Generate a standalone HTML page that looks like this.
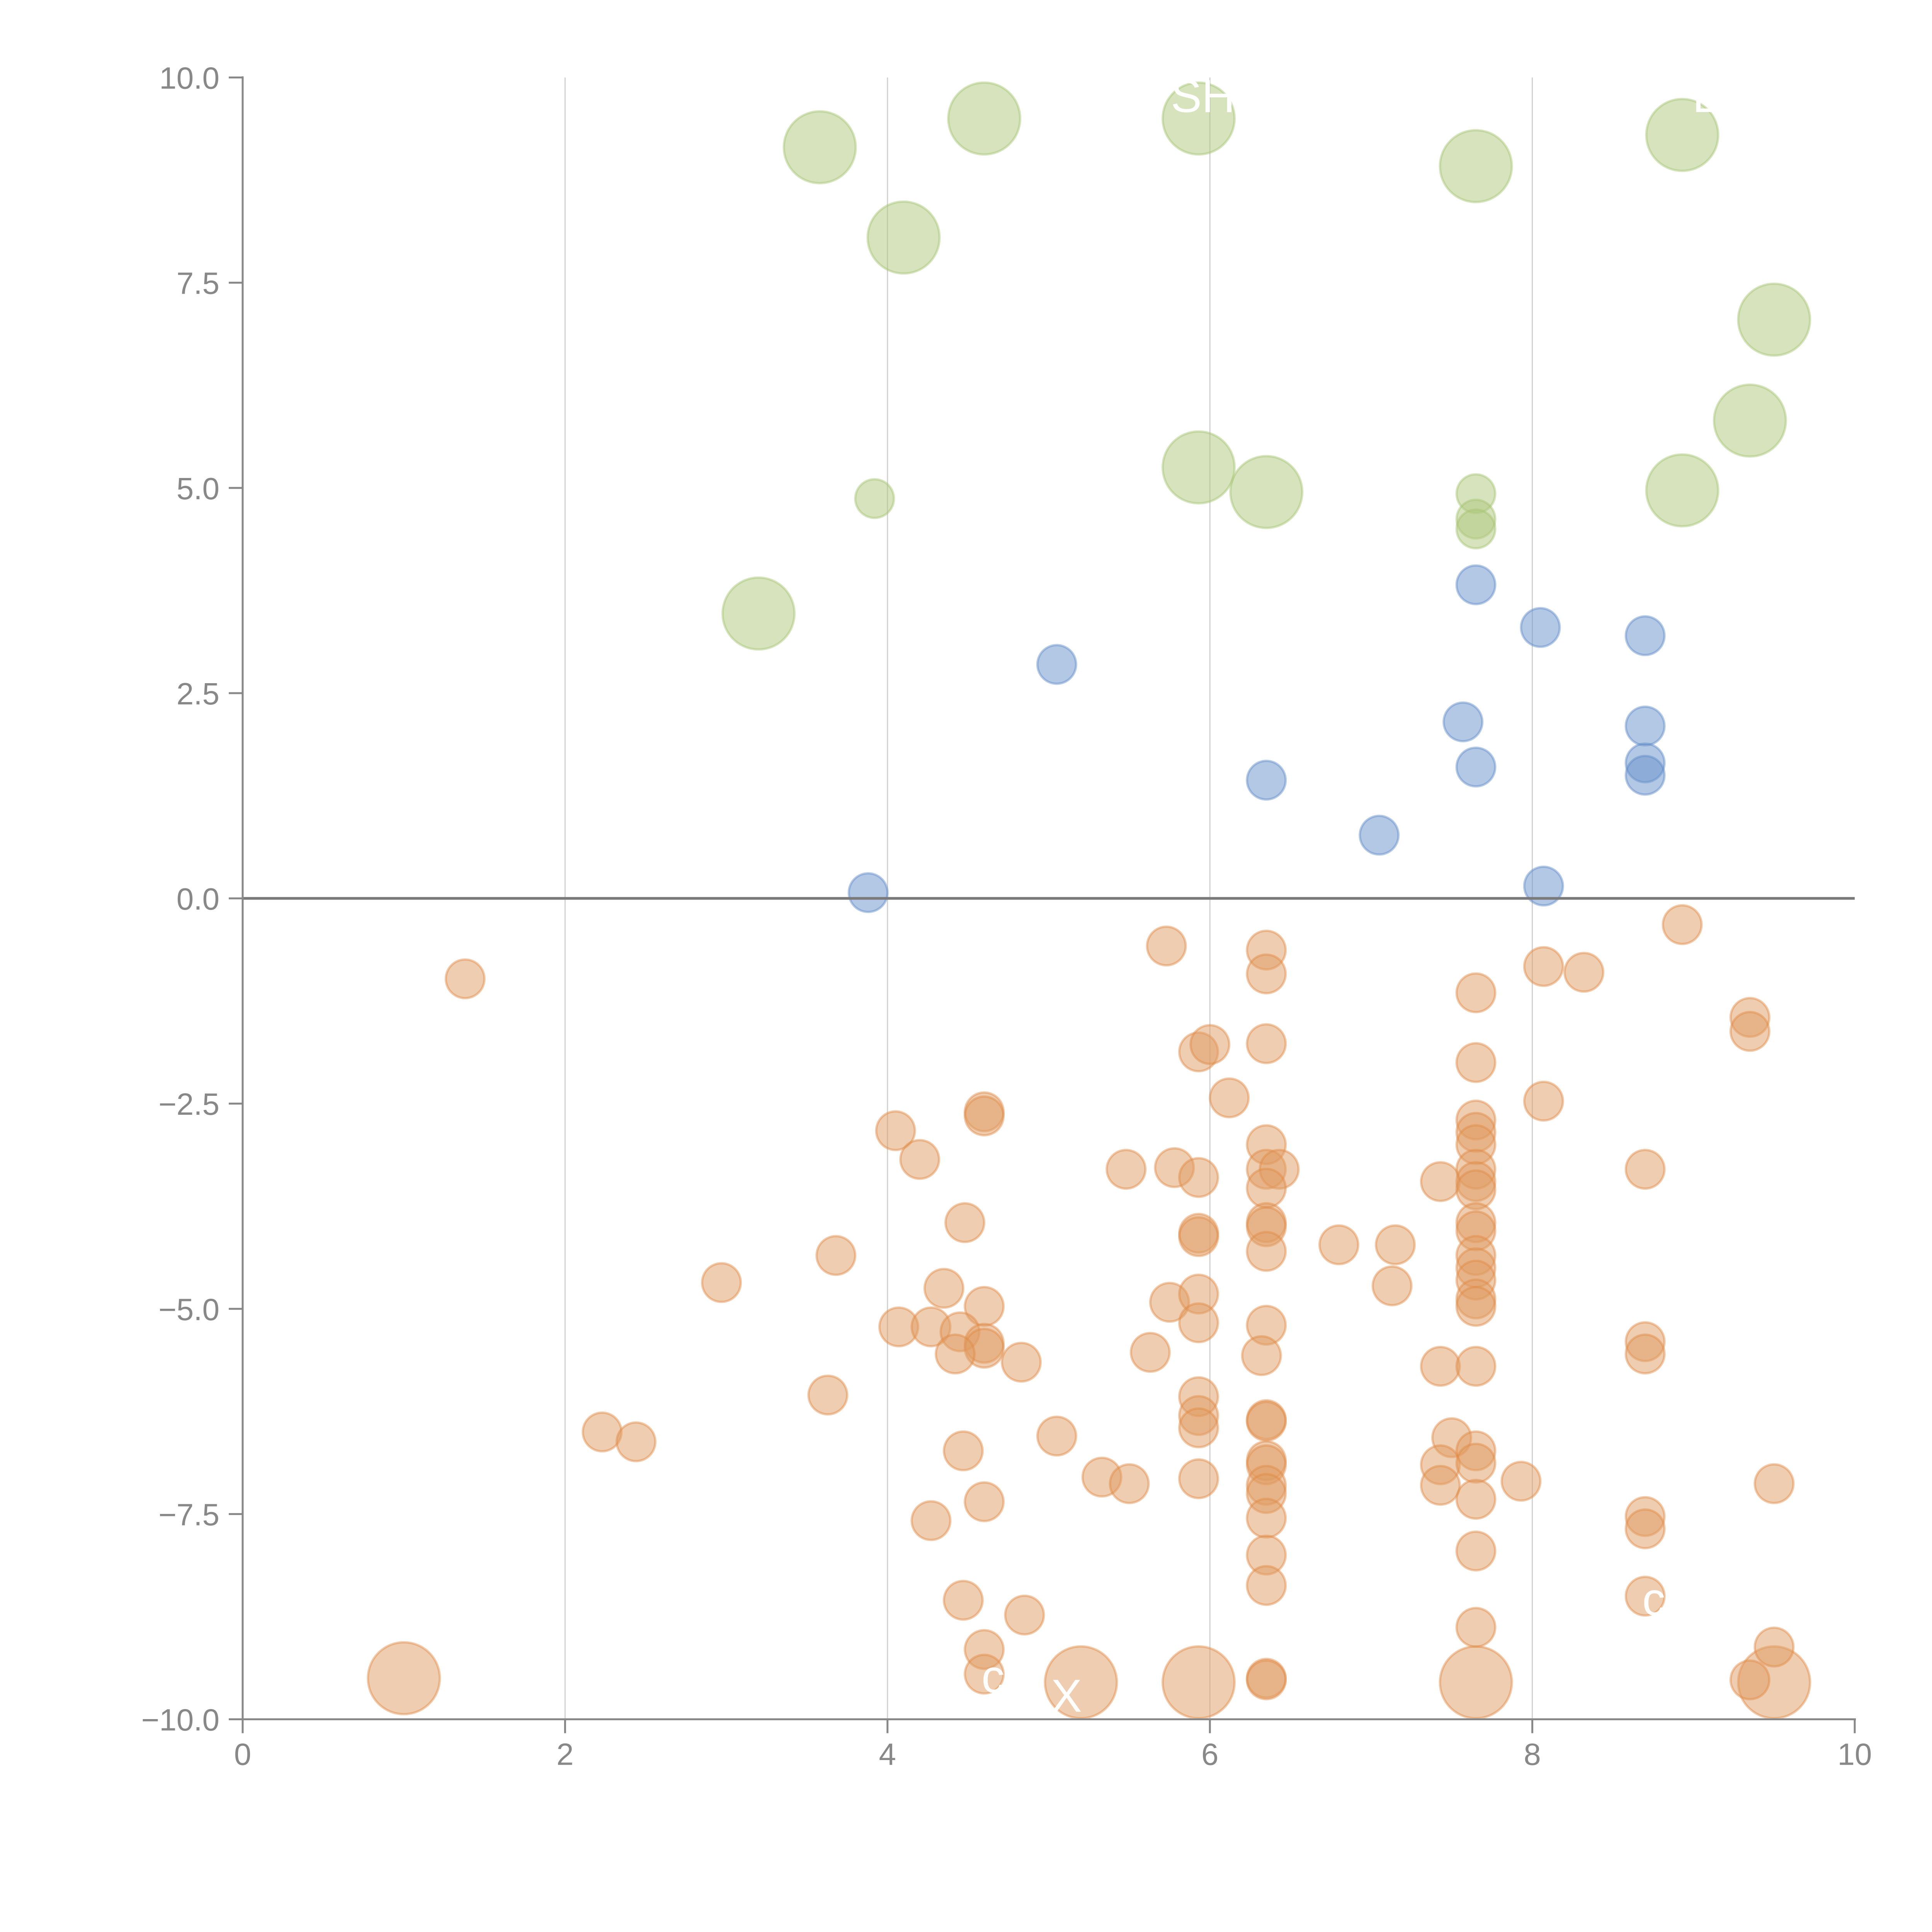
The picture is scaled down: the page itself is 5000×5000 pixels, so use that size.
<!DOCTYPE html>
<html><head><meta charset="utf-8"><style>
html,body{margin:0;padding:0;background:#fff;width:5000px;height:5000px;overflow:hidden}
svg{display:block}
text{font-family:"Liberation Sans",sans-serif}
</style></head><body>
<svg id="chart" width="5000" height="5000" viewBox="0 0 5000 5000" xmlns="http://www.w3.org/2000/svg">
<g id="grid"></g>
<g id="marks"></g>
<g id="labels"></g>
<g id="axes"></g>
</svg>
<script>
const xTicks=[0,2,4,6,8,10];
const yTicks=[-10,-7.5,-5,-2.5,0,2.5,5,7.5,10];
const yTickLabels=["\u221210.0","\u22127.5","\u22125.0","\u22122.5","0.0","2.5","5.0","7.5","10.0"];
const greenX=[3.58,4.6,5.93,7.65,8.93,4.1,9.5,9.35,5.93,6.35,8.93,3.2,3.92,7.65,7.65,7.65];
const greenY=[9.15,9.5,9.5,8.92,9.3,8.05,7.05,5.82,5.25,4.95,4.97,3.47,4.87,4.93,4.62,4.5];
const greenS=[2,2,2,2,2,2,2,2,2,2,2,2,1,1,1,1];
const blueX=[5.05,7.65,8.05,8.7,7.57,8.7,7.65,8.7,8.7,6.35,7.05,3.88,8.07];
const blueY=[2.85,3.82,3.3,3.2,2.15,2.1,1.6,1.65,1.5,1.44,0.77,0.07,0.15];
const orangeX=[1.0,5.2,5.93,7.65,9.5,
1.38,5.73,6.35,6.35,7.65,8.07,8.32,8.93,9.35,9.35,5.93,6.0,6.35,7.65,6.12,8.07,4.05,4.6,4.6,4.2,
6.35,7.65,7.65,7.65,5.48,5.78,5.93,6.35,6.43,6.35,7.43,7.65,7.65,7.65,8.7,
4.48,5.93,5.93,6.35,6.35,6.35,6.8,7.15,7.65,7.65,3.68,7.65,7.65,7.65,
2.97,4.35,7.13,5.75,5.93,4.6,7.65,7.65,4.07,4.27,4.45,5.93,6.35,4.6,4.6,4.42,5.63,6.32,4.83,7.43,7.65,8.7,8.7,
3.63,5.93,5.93,5.93,6.35,6.35,2.23,2.44,5.05,7.5,7.65,4.47,6.35,6.35,7.43,7.65,5.33,5.5,5.93,6.35,6.35,7.43,7.93,9.5,4.6,7.65,4.27,6.35,8.7,8.7,6.35,7.65,6.35,8.7,4.47,4.85,7.65,4.6,9.5,4.6,6.35,6.35,9.35];
const orangeY=[-9.5,-9.55,-9.55,-9.55,-9.55,
-0.98,-0.58,-0.63,-0.92,-1.15,-0.83,-0.9,-0.32,-1.45,-1.62,-1.87,-1.78,-1.77,-2.0,-2.43,-2.47,-2.83,-2.6,-2.65,-3.18,
-3.0,-2.7,-2.85,-3.0,-3.3,-3.28,-3.4,-3.3,-3.3,-3.53,-3.45,-3.3,-3.45,-3.55,-3.3,
-3.95,-4.08,-4.12,-3.95,-4.0,-4.3,-4.22,-4.22,-3.95,-4.05,-4.35,-4.35,-4.5,-4.65,
-4.68,-4.75,-4.72,-4.92,-4.82,-4.97,-4.88,-4.97,-5.22,-5.22,-5.28,-5.17,-5.2,-5.42,-5.48,-5.55,-5.53,-5.57,-5.65,-5.7,-5.7,-5.4,-5.55,
-6.05,-6.07,-6.3,-6.45,-6.35,-6.37,-6.5,-6.62,-6.55,-6.57,-6.73,-6.73,-6.85,-6.9,-6.9,-6.88,-7.05,-7.13,-7.07,-7.15,-7.25,-7.15,-7.1,-7.13,-7.35,-7.32,-7.58,-7.55,-7.53,-7.68,-8.0,-7.95,-8.37,-8.5,-8.55,-8.73,-8.88,-9.15,-9.12,-9.45,-9.5,-9.52,-9.52];
const orangeS=[2,2,2,2,2];

const X0=628,XU=417.2,Y0=2325,YU=212.45;
const sx=v=>X0+v*XU, sy=v=>Y0-v*YU;
const NS="http://www.w3.org/2000/svg";
function mk(tag,attrs,parent){const e=document.createElementNS(NS,tag);for(const k in attrs)e.setAttribute(k,attrs[k]);parent.appendChild(e);return e;}
const grid=document.getElementById('grid'),marks=document.getElementById('marks'),axes=document.getElementById('axes'),labels=document.getElementById('labels');
xTicks.forEach(t=>{ if(t>0&&t<10){const l=mk('line',{x1:sx(t),x2:sx(t),y1:sy(10),y2:sy(-10),stroke:'#d0d0d0','stroke-width':3},grid);

}});
function series(xs,ys,ss,fill,stroke,name){
 xs.forEach((x,i)=>{const big=(ss[i]||1)===2;
  const c=mk('circle',{cx:sx(x),cy:sy(ys[i]),r:big?93:50,fill:fill,'fill-opacity':0.5,stroke:stroke,'stroke-opacity':0.45,'stroke-width':6},marks);
  
  
 });
}
series(greenX,greenY,greenS,'#adc77b','#a6c474','green-bubble');
series(blueX,blueY,[],'#6791cb','#5f89c6','blue-bubble');
series(orangeX,orangeY,orangeS,'#df9b61','#df8a45','orange-bubble');
const z=mk('line',{x1:sx(0),x2:sx(10),y1:sy(0),y2:sy(0),stroke:'#7a7a7a','stroke-width':7},axes);


const ls=mk('line',{x1:sx(0),x2:sx(0),y1:sy(10)-3,y2:sy(-10)+3,stroke:'#888','stroke-width':5},axes);


const bs=mk('line',{x1:sx(0)-3,x2:sx(10)+3,y1:sy(-10),y2:sy(-10),stroke:'#888','stroke-width':5},axes);


xTicks.forEach(t=>{const tk=mk('line',{x1:sx(t),x2:sx(t),y1:sy(-10),y2:sy(-10)+36,stroke:'#888','stroke-width':5},axes);


const tx=mk('text',{x:sx(t),y:sy(-10)+118,'text-anchor':'middle','font-size':80,fill:'#888'},axes);tx.textContent=String(t);

});
yTicks.forEach((t,i)=>{const tk=mk('line',{x1:sx(0)-36,x2:sx(0),y1:sy(t),y2:sy(t),stroke:'#888','stroke-width':5},axes);


const tx=mk('text',{x:sx(0)-60,y:sy(t)+29,'text-anchor':'end','font-size':80,fill:'#888'},axes);tx.textContent=yTickLabels[i];

});
const lbl=[["SH",3030,290],["E",4380,290],["X",2720,4430],["c",2540,4380],["c",4250,4180]];
lbl.forEach(a=>{const t=mk('text',{x:a[1],y:a[2],'font-size':120,fill:'#fff'},labels);t.textContent=a[0];

});
</script>
</body></html>
